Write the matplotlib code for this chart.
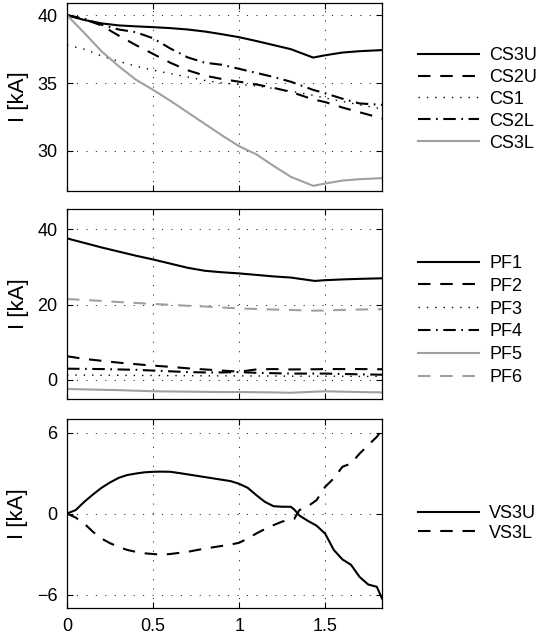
import matplotlib
matplotlib.use("Agg")
import matplotlib.pyplot as plt

plt.rcParams['font.family'] = ['Liberation Sans', 'DejaVu Sans']
plt.rcParams['lines.scale_dashes'] = False

# ---------------- data ----------------
t_cs = [0, 0.1, 0.2, 0.3, 0.4, 0.5, 0.6, 0.7, 0.8, 0.9, 1.0, 1.1, 1.2, 1.3, 1.43, 1.5, 1.6, 1.7, 1.83]
cs3u = [40, 39.65, 39.4, 39.25, 39.18, 39.12, 39.05, 38.95, 38.8, 38.6, 38.38, 38.1, 37.8, 37.5, 36.88, 37.05, 37.25, 37.35, 37.43]
cs2u = [40, 39.7, 39.25, 38.5, 37.8, 37.15, 36.5, 35.95, 35.55, 35.3, 35.1, 34.9, 34.65, 34.35, 33.8, 33.6, 33.2, 32.85, 32.4]
cs1 = [37.8, 37.5, 37.0, 36.6, 36.25, 35.95, 35.7, 35.45, 35.2, 35.0, 34.9, 34.8, 34.6, 34.4, 34.1, 33.9, 33.65, 33.4, 33.1]
cs2l = [40, 39.75, 39.3, 38.95, 38.75, 38.3, 37.55, 36.9, 36.5, 36.35, 36.05, 35.75, 35.45, 35.1, 34.5, 34.25, 33.85, 33.5, 33.4]
cs3l = [40, 38.7, 37.35, 36.25, 35.25, 34.5, 33.7, 32.85, 32.0, 31.15, 30.35, 29.75, 28.9, 28.1, 27.43, 27.6, 27.82, 27.92, 28.0]

t_pf = [0, 0.1, 0.2, 0.3, 0.4, 0.5, 0.6, 0.7, 0.8, 0.9, 1.0, 1.1, 1.2, 1.3, 1.44, 1.5, 1.6, 1.7, 1.83]
pf1 = [37.6, 36.4, 35.2, 34.1, 33.0, 32.0, 30.9, 29.8, 29.0, 28.6, 28.3, 27.9, 27.5, 27.2, 26.3, 26.5, 26.7, 26.85, 27.0]
pf2 = [6.3, 5.6, 5.1, 4.6, 4.2, 3.8, 3.5, 3.1, 2.8, 2.5, 2.2, 2.8, 2.9, 2.8, 2.85, 2.9, 2.9, 2.9, 2.85]
pf3 = [1.3, 1.3, 1.25, 1.25, 1.2, 1.2, 1.15, 1.15, 1.1, 1.1, 1.1, 1.05, 1.05, 1.0, 1.0, 1.0, 1.0, 0.95, 0.95]
pf4 = [3.0, 2.95, 2.9, 2.8, 2.7, 2.5, 2.3, 2.1, 2.0, 2.0, 2.1, 1.9, 1.8, 1.7, 1.7, 1.7, 1.6, 1.5, 1.4]
pf5 = [-2.4, -2.5, -2.6, -2.7, -2.85, -3.0, -3.05, -3.1, -3.15, -3.2, -3.2, -3.25, -3.3, -3.4, -3.1, -3.0, -3.1, -3.2, -3.3]
pf6 = [21.5, 21.25, 21.0, 20.7, 20.45, 20.2, 19.95, 19.7, 19.5, 19.25, 19.0, 18.85, 18.7, 18.6, 18.4, 18.45, 18.6, 18.7, 18.8]

t_vs = [0, 0.05, 0.1, 0.15, 0.2, 0.25, 0.3, 0.35, 0.4, 0.45, 0.5, 0.55, 0.6, 0.65, 0.7, 0.75, 0.8,
        0.85, 0.9, 0.95, 1.0, 1.05, 1.1, 1.15, 1.2, 1.25, 1.3, 1.32, 1.35, 1.4, 1.45, 1.5, 1.55,
        1.6, 1.65, 1.7, 1.75, 1.8, 1.83]
vs3u = [0, 0.25, 0.86, 1.4, 1.9, 2.3, 2.64, 2.85, 2.96, 3.05, 3.09, 3.1, 3.09, 3.0, 2.9, 2.8, 2.7,
        2.6, 2.5, 2.4, 2.2, 1.9, 1.36, 0.86, 0.54, 0.5, 0.5, 0.3, -0.15, -0.55, -0.9, -1.5, -2.7,
        -3.4, -3.8, -4.7, -5.26, -5.43, -6.3]
vs3l = [0, -0.3, -0.74, -1.35, -1.85, -2.2, -2.47, -2.7, -2.84, -2.95, -3.0, -3.05, -3.0, -2.92, -2.84, -2.72, -2.6,
        -2.5, -2.4, -2.3, -2.17, -1.85, -1.48, -1.15, -0.86, -0.6, -0.44, -0.4, 0.25, 0.54, 0.99, 1.98, 2.6,
        3.46, 3.7, 4.44, 5.06, 5.68, 6.2]

x_ticks = [0, 0.5, 1, 1.5]
x_tick_labels = ['0', '0.5', '1', '1.5']

# ---------------- styles ----------------
GRAY = '#a0a0a0'
DASH = (0, (9, 7))
DOT = (0, (1, 5))
DASHDOT = (0, (9, 4, 1.2, 4))
LW = 1.5

W, H = 538, 641
fig = plt.figure(figsize=(W / 100, H / 100), dpi=100)

def axrect(top, bottom):
    return [67 / W, 1 - bottom / H, 315 / W, (bottom - top) / H]

ax1 = fig.add_axes(axrect(3, 191))
ax2 = fig.add_axes(axrect(209, 399))
ax3 = fig.add_axes(axrect(419, 608))

ax1.plot(t_cs, cs3u, color='k', lw=LW, ls='-', label='CS3U')
ax1.plot(t_cs, cs2u, color='k', lw=LW, ls=DASH, label='CS2U')
ax1.plot(t_cs, cs1, color='k', lw=1.0, ls=DOT, label='CS1')
ax1.plot(t_cs, cs2l, color='k', lw=LW, ls=DASHDOT, label='CS2L')
ax1.plot(t_cs, cs3l, color=GRAY, lw=LW, ls='-', label='CS3L')
ax1.set_ylim(27.05, 40.9)
ax1.set_yticks([30, 35, 40])

ax2.plot(t_pf, pf1, color='k', lw=LW, ls='-', label='PF1')
ax2.plot(t_pf, pf2, color='k', lw=LW, ls=DASH, label='PF2')
ax2.plot(t_pf, pf3, color='k', lw=1.0, ls=DOT, label='PF3')
ax2.plot(t_pf, pf4, color='k', lw=LW, ls=DASHDOT, label='PF4')
ax2.plot(t_pf, pf5, color=GRAY, lw=LW, ls='-', label='PF5')
ax2.plot(t_pf, pf6, color=GRAY, lw=LW, ls=DASH, label='PF6')
ax2.set_ylim(-5.05, 45.4)
ax2.set_yticks([0, 20, 40])

ax3.plot(t_vs, vs3u, color='k', lw=LW, ls='-', label='VS3U')
ax3.plot(t_vs, vs3l, color='k', lw=LW, ls=DASH, label='VS3L')
ax3.set_ylim(-7, 7)
ax3.set_yticks([-6, 0, 6])

for ax in (ax1, ax2, ax3):
    ax.set_xlim(0, 1.83)
    ax.set_xticks(x_ticks)
    ax.grid(True, color='k', lw=0.6, ls=(0, (0.8, 6)))
    ax.tick_params(direction='in', top=True, right=True, length=4, width=0.8,
                   labelsize=13, pad=7)
    ax.set_ylabel('I [kA]', fontsize=16, labelpad=6)
    for s in ax.spines.values():
        s.set_linewidth(0.9)
ax1.set_xticklabels([])
ax2.set_xticklabels([])
ax3.set_xticklabels(x_tick_labels)

def put_legend(ax, top_px, spacing):
    ax.legend(loc='upper left', bbox_to_anchor=(418 / W, 1 - top_px / H),
              bbox_transform=fig.transFigure, frameon=False, borderpad=0,
              borderaxespad=0, fontsize=13, handlelength=3.4, handletextpad=0.55,
              labelspacing=spacing)

put_legend(ax1, 47, 0.27)
put_legend(ax2, 255, 0.32)
put_legend(ax3, 505, 0.15)

fig.savefig('out.png', dpi=100)
